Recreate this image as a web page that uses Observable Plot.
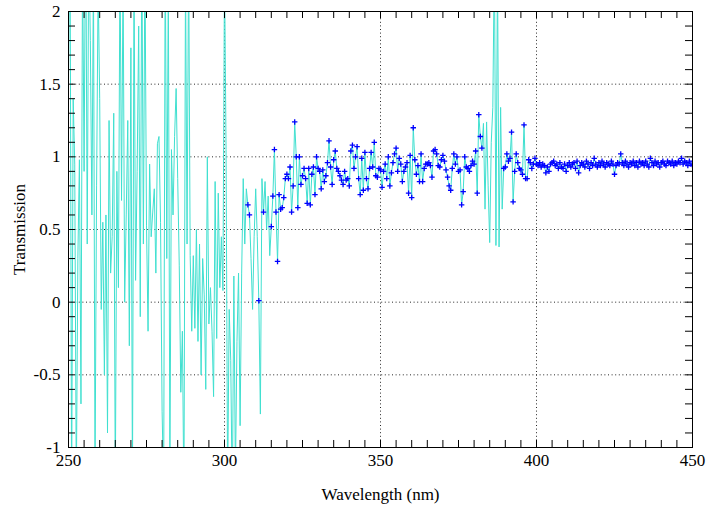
<!DOCTYPE html>
<html>
<head>
<meta charset="utf-8">
<script src="https://cdn.jsdelivr.net/npm/d3@7"></script>
<script src="https://cdn.jsdelivr.net/npm/@observablehq/plot@0.6"></script>
<style>
  html, body { margin: 0; padding: 0; background: #fff; }
  #chart { width: 706px; height: 511px; }
  #chart svg, #chart svg text, #chart svg g { font-family: "Liberation Serif", "Times New Roman", "DejaVu Serif", serif !important; }
</style>
</head>
<body>
<div id="chart"></div>
<script>
// Wavelength grid (nm): start and sampling step
const wlStart = 250;
const wlStep = 0.5;

// Transmission values, one per 0.5 nm, 250 → 450 nm
const transmission = [
  // 250–259.5
  1.55, 2.6, -1.4, 1.4, 0.95, -1.3, 0.3, 0.98, -0.7, 2.4, 0.9, 2.8, 0.4, 2.5, 1.8, 0.6, 2.3, -1.2, 0.8, 2.2,
  // 260–269.5
  1.4, -0.05, 0.55, -0.5, 0.6, -0.9, 1.25, 0.2, 0.45, 1.3, -1.3, 0.9, 0.1, 2.4, 0.7, 2.3, 0.0, 0.6, 1.25, -0.3,
  // 270–279.5
  1.75, -1.3, 2.3, 0.15, 0.9, 1.9, -0.1, 2.5, 0.4, 2.4, 0.53, -0.2, 0.95, 0.45, 0.62, 0.78, 0.2, 1.09, 1.14, 0.55,
  // 280–289.5
  -0.75, -1.3, 2.5, 0.3, 2.2, -1.2, 1.05, 0.6, 1.14, 1.47, 0.85, 0.25, -0.62, -0.2, -1.4, 2.3, 0.4, 2.4, 0.32, -0.2,
  // 290–299.5
  0.32, -0.18, 0.5, -0.27, 0.4, -0.5, 0.3, 0.05, -0.6, 1.0, -0.15, 0.1, -0.2, -0.65, 0.83, -0.25, 0.75, 0.1, 0.45, 0.08,
  // 300–309.5
  2.3, 1.05, -1.3, -0.05, -0.4, -1.4, 0.18, -1.2, -0.27, 0.2, -0.85, 0.2, 0.85, 0.4, 0.78, 0.67, 0.6, 0.3, -0.05, 0.45,
  // 310–319.5
  0.78, 0.45, 0.01, -0.77, 0.85, 0.62, 0.83, 0.5, 0.73, 0.32, 0.52, 0.73, 1.05, 0.62, 0.28, 0.74, 0.64, 0.65, 0.72, 0.85,
  // 320–329.5
  0.88, 0.85, 0.93, 0.62, 0.8, 1.24, 1.0, 0.65, 1.0, 0.81, 0.87, 0.92, 0.85, 0.68, 0.92, 0.67, 0.88, 0.93, 0.74, 1.0,
  // 330–339.5
  0.92, 0.9, 0.78, 0.91, 0.83, 0.87, 0.96, 1.11, 0.93, 0.81, 0.98, 1.04, 0.92, 0.9, 0.87, 0.84, 0.81, 0.9, 0.84, 0.85,
  // 340–349.5
  0.8, 1.04, 1.08, 0.92, 1.0, 1.07, 0.85, 0.74, 0.99, 0.77, 1.03, 0.85, 0.78, 0.92, 1.03, 0.93, 1.1, 0.87, 0.86, 0.92,
  // 350–359.5
  0.91, 0.79, 0.9, 0.95, 0.85, 1.0, 0.8, 0.89, 0.96, 1.02, 1.06, 0.9, 0.99, 0.95, 0.83, 0.9, 0.93, 0.96, 0.75, 1.01,
  // 360–369.5
  0.72, 1.2, 0.98, 0.88, 0.94, 0.83, 1.02, 0.83, 0.92, 0.95, 0.95, 0.96, 0.94, 0.86, 1.04, 1.05, 1.02, 0.94, 0.93, 0.98,
  // 370–379.5
  1.01, 0.97, 0.91, 0.86, 0.8, 0.77, 0.92, 1.02, 0.95, 1.0, 0.9, 0.91, 0.67, 0.76, 1.0, 0.93, 0.92, 0.9, 0.94, 0.97,
  // 380–389.5
  0.95, 1.04, 0.75, 1.29, 1.14, 1.06, 1.23, 0.64, 1.24, 0.8, 0.41, 1.1, 1.34, 2.4, 0.39, 2.3, 0.38, 1.34, 0.64, 0.92,
  // 390–399.5
  0.93, 1.02, 0.97, 0.99, 1.17, 0.69, 0.9, 1.02, 0.96, 0.92, 0.91, 0.88, 1.22, 0.85, 0.85, 0.98, 0.96, 0.92, 0.95, 0.99,
  // 400–404.5
  0.95, 0.94, 0.96, 0.93, 0.95, 0.94, 0.89, 0.93, 0.9, 0.95,
  // 405–409.5
  0.96, 0.97, 0.94, 0.95, 0.92, 0.96, 0.93, 0.92, 0.95, 0.9,
  // 410–414.5
  0.94, 0.96, 0.93, 0.95, 0.96, 0.92, 0.97, 0.89, 0.94, 0.96,
  // 415–419.5
  0.95, 0.93, 0.97, 0.95, 0.92, 0.96, 0.94, 0.99, 0.95, 0.93,
  // 420–424.5
  0.96, 0.94, 0.97, 0.95, 0.93, 0.96, 0.95, 0.94, 0.97, 0.95,
  // 425–429.5
  0.88, 0.94, 0.96, 0.95, 1.02, 0.96, 0.94, 0.97, 0.95, 0.93,
  // 430–434.5
  0.96, 0.95, 0.97, 0.94, 0.96, 0.93, 0.97, 0.95, 0.96, 0.94,
  // 435–439.5
  0.97, 0.95, 0.93, 0.99, 0.96, 0.94, 0.97, 0.95, 0.96, 0.93,
  // 440–444.5
  0.96, 0.97, 0.95, 0.94, 0.97, 0.96, 0.95, 0.97, 0.94, 0.96,
  // 445–449.5
  0.95, 0.97, 0.96, 0.99, 0.95, 0.97, 0.96, 0.94, 0.97, 0.95,
  // 450
  0.94
];

// Wavelength ranges (nm) where the measured points are marked with crosses
const markedRanges = [[315, 382.5], [389.5, 450]];
const markedExtra = [307.5, 308, 311, 312.5];

// Axis ticks and labels
const xLabels = [250, 300, 350, 400, 450];
const yLabels = [-1, -0.5, 0, 0.5, 1, 1.5, 2];
const xGrid = [300, 350, 400];
const yGrid = [-0.5, 0, 0.5, 1, 1.5];
const xMinor = d3.range(255, 450, 5);
const yMinor = d3.range(-9, 20).map(i => Math.round(i * 10) / 100);

const data = transmission.map((t, i) => ({wl: wlStart + i * wlStep, t}));
const marked = data.filter(d =>
  markedRanges.some(([a, b]) => d.wl >= a && d.wl <= b) || markedExtra.includes(d.wl));

const xDom = [250, 450], yDom = [-1, 2];
const tickLenX = 7 / 3.12;    // ≈7px in nm
const tickLenY = 7 / 145.33;  // ≈7px in transmission units
const serif = "Liberation Serif";

const chart = Plot.plot({
  width: 706,
  height: 511,
  marginTop: 11,
  marginLeft: 68,
  marginRight: 14,
  marginBottom: 64,
  style: {background: "#fff", color: "#000"},
  x: {domain: xDom},
  y: {domain: yDom},
  marks: [
    Plot.ruleX(xGrid, {stroke: "#000", strokeWidth: 1, strokeDasharray: "1,2.6", strokeOpacity: 0.85}),
    Plot.ruleY(yGrid, {stroke: "#000", strokeWidth: 1, strokeDasharray: "1,2.6", strokeOpacity: 0.85}),
    Plot.line(data, {x: "wl", y: "t", stroke: "#40e0d0", strokeWidth: 1, clip: true}),
    Plot.dot(marked, {x: "wl", y: "t", symbol: "plus", stroke: "#0000ff", strokeWidth: 1.3, r: 1.9, clip: true}),
    // inside minor ticks
    Plot.ruleX(xMinor, {y1: yDom[0], y2: yDom[0] + tickLenY, stroke: "#000"}),
    Plot.ruleX(xMinor, {y1: yDom[1], y2: yDom[1] - tickLenY, stroke: "#000"}),
    Plot.ruleY(yMinor, {x1: xDom[0], x2: xDom[0] + tickLenX, stroke: "#000"}),
    Plot.ruleY(yMinor, {x1: xDom[1], x2: xDom[1] - tickLenX, stroke: "#000"}),
    Plot.frame({stroke: "#000", strokeWidth: 1}),
    Plot.axisX({ticks: xLabels, tickSize: 0, tickPadding: 6, tickFormat: d => String(d),
      fontSize: 17, label: "Wavelength (nm)", labelAnchor: "center", labelOffset: 52, labelArrow: "none"}),
    Plot.axisY({ticks: yLabels, tickSize: 0, tickPadding: 8, tickFormat: d => String(d),
      fontSize: 17, label: "Transmission", labelAnchor: "center", labelOffset: 56, labelArrow: "none"})
  ]
});
d3.select(chart).style("font-family", serif).style("font-size", "17px");
d3.select(chart).selectAll("text, g").attr("font-family", serif).style("font-family", serif);
document.getElementById("chart").appendChild(chart);
</script>
</body>
</html>
